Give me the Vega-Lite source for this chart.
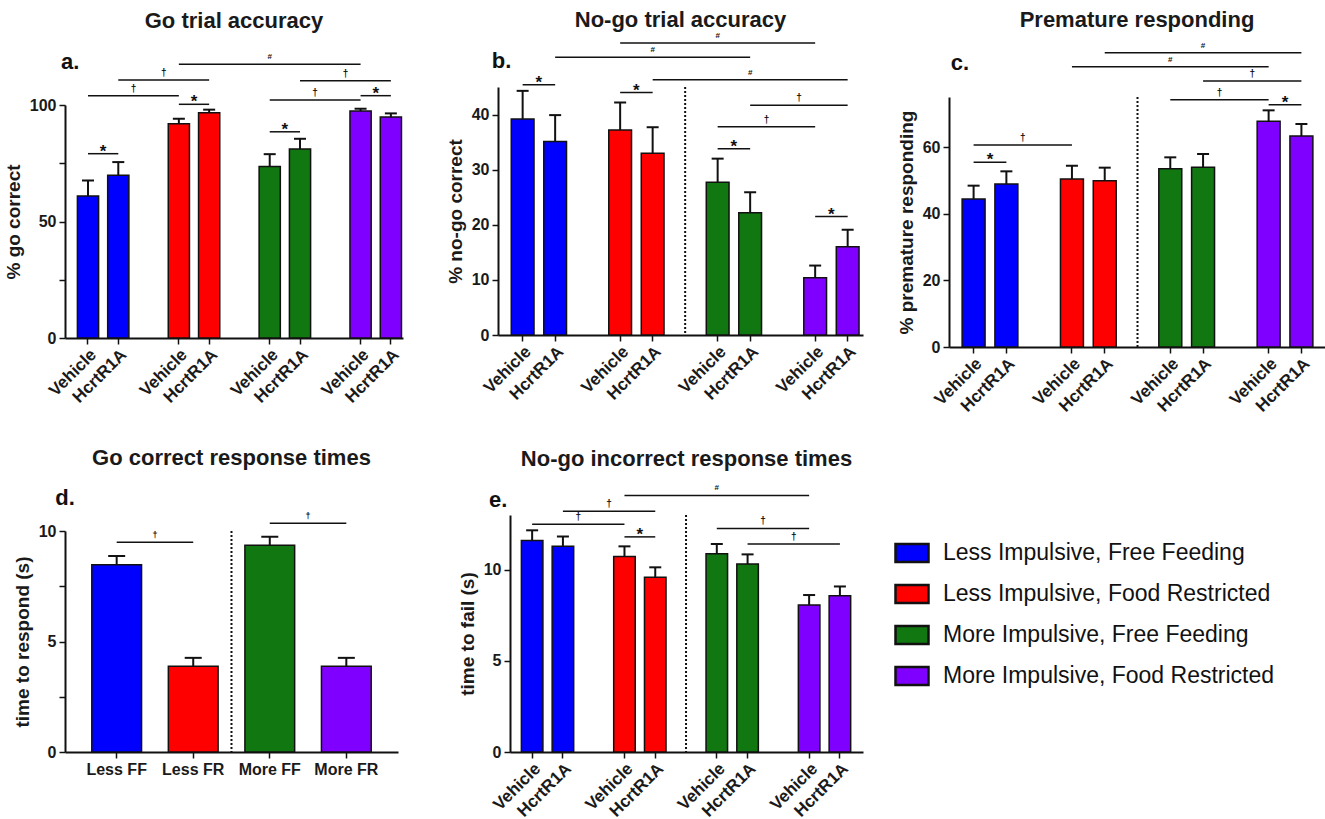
{
  "$schema": "https://vega.github.io/schema/vega-lite/v6.json",
  "background": "white",
  "padding": {"left": 4, "top": 8, "right": 0, "bottom": 0},
  "config": {
    "font": "Liberation Sans",
    "view": {"stroke": null},
    "title": {"font": "Liberation Sans", "fontSize": 22, "fontWeight": "bold", "color": "#1a1a1a", "anchor": "middle"},
    "axis": {
      "grid": false, "domainColor": "#111", "domainWidth": 2, "tickColor": "#111", "tickWidth": 1.5, "tickSize": 6,
      "labelFont": "Liberation Sans", "labelFontWeight": "bold", "labelFontSize": 16, "labelColor": "#1a1a1a", "labelPadding": 2,
      "titleFont": "Liberation Sans", "titleFontWeight": "bold", "titleFontSize": 19, "titleColor": "#1a1a1a",
      "labelOverlap": false, "labelFlush": false
    },
    "axisY": {"titlePadding": 6, "labelPadding": 3},
    "text": {"font": "Liberation Sans", "color": "#111"}
  },
  "datasets": {
    "bars": [
      {"panel": "a", "cond": "LFF-V", "group": "Less  Impulsive, Free Feeding", "mean": 60.9, "upper": 67.6},
      {"panel": "a", "cond": "LFF-H", "group": "Less  Impulsive, Free Feeding", "mean": 69.8, "upper": 75.5},
      {"panel": "a", "cond": "LFR-V", "group": "Less Impulsive, Food Restricted", "mean": 92.0, "upper": 94.1},
      {"panel": "a", "cond": "LFR-H", "group": "Less Impulsive, Food Restricted", "mean": 96.7, "upper": 98.0},
      {"panel": "a", "cond": "MFF-V", "group": "More Impulsive, Free Feeding", "mean": 73.6, "upper": 78.9},
      {"panel": "a", "cond": "MFF-H", "group": "More Impulsive, Free Feeding", "mean": 81.1, "upper": 85.5},
      {"panel": "a", "cond": "MFR-V", "group": "More Impulsive, Food Restricted", "mean": 97.4, "upper": 98.4},
      {"panel": "a", "cond": "MFR-H", "group": "More Impulsive, Food Restricted", "mean": 94.8, "upper": 96.4},
      {"panel": "b", "cond": "LFF-V", "group": "Less  Impulsive, Free Feeding", "mean": 39.2, "upper": 44.3},
      {"panel": "b", "cond": "LFF-H", "group": "Less  Impulsive, Free Feeding", "mean": 35.1, "upper": 39.9},
      {"panel": "b", "cond": "LFR-V", "group": "Less Impulsive, Food Restricted", "mean": 37.2, "upper": 42.2},
      {"panel": "b", "cond": "LFR-H", "group": "Less Impulsive, Food Restricted", "mean": 33.0, "upper": 37.7},
      {"panel": "b", "cond": "MFF-V", "group": "More Impulsive, Free Feeding", "mean": 27.7, "upper": 32.0},
      {"panel": "b", "cond": "MFF-H", "group": "More Impulsive, Free Feeding", "mean": 22.2, "upper": 25.9},
      {"panel": "b", "cond": "MFR-V", "group": "More Impulsive, Food Restricted", "mean": 10.4, "upper": 12.6},
      {"panel": "b", "cond": "MFR-H", "group": "More Impulsive, Food Restricted", "mean": 16.0, "upper": 19.1},
      {"panel": "c", "cond": "LFF-V", "group": "Less  Impulsive, Free Feeding", "mean": 44.4, "upper": 48.4},
      {"panel": "c", "cond": "LFF-H", "group": "Less  Impulsive, Free Feeding", "mean": 48.9, "upper": 52.7},
      {"panel": "c", "cond": "LFR-V", "group": "Less Impulsive, Food Restricted", "mean": 50.4, "upper": 54.4},
      {"panel": "c", "cond": "LFR-H", "group": "Less Impulsive, Food Restricted", "mean": 49.9, "upper": 53.8},
      {"panel": "c", "cond": "MFF-V", "group": "More Impulsive, Free Feeding", "mean": 53.5, "upper": 56.9},
      {"panel": "c", "cond": "MFF-H", "group": "More Impulsive, Free Feeding", "mean": 53.9, "upper": 57.9},
      {"panel": "c", "cond": "MFR-V", "group": "More Impulsive, Food Restricted", "mean": 67.7, "upper": 71.0},
      {"panel": "c", "cond": "MFR-H", "group": "More Impulsive, Food Restricted", "mean": 63.3, "upper": 66.9},
      {"panel": "d", "cond": "Less FF", "group": "Less  Impulsive, Free Feeding", "mean": 8.47, "upper": 8.87},
      {"panel": "d", "cond": "Less FR", "group": "Less Impulsive, Food Restricted", "mean": 3.88, "upper": 4.26},
      {"panel": "d", "cond": "More FF", "group": "More Impulsive, Free Feeding", "mean": 9.35, "upper": 9.74},
      {"panel": "d", "cond": "More FR", "group": "More Impulsive, Food Restricted", "mean": 3.88, "upper": 4.26},
      {"panel": "e", "cond": "LFF-V", "group": "Less  Impulsive, Free Feeding", "mean": 11.6, "upper": 12.16},
      {"panel": "e", "cond": "LFF-H", "group": "Less  Impulsive, Free Feeding", "mean": 11.28, "upper": 11.82},
      {"panel": "e", "cond": "LFR-V", "group": "Less Impulsive, Food Restricted", "mean": 10.73, "upper": 11.28},
      {"panel": "e", "cond": "LFR-H", "group": "Less Impulsive, Food Restricted", "mean": 9.58, "upper": 10.13},
      {"panel": "e", "cond": "MFF-V", "group": "More Impulsive, Free Feeding", "mean": 10.88, "upper": 11.41},
      {"panel": "e", "cond": "MFF-H", "group": "More Impulsive, Free Feeding", "mean": 10.31, "upper": 10.84},
      {"panel": "e", "cond": "MFR-V", "group": "More Impulsive, Food Restricted", "mean": 8.07, "upper": 8.61},
      {"panel": "e", "cond": "MFR-H", "group": "More Impulsive, Food Restricted", "mean": 8.57, "upper": 9.08}
    ],
    "sig": [
      {"panel": "a", "from": "LFF-V", "to": "LFF-H", "yv": 79.1, "sym": "*"},
      {"panel": "a", "from": "LFF-V", "to": "LFR-V", "yv": 104.0, "sym": "†"},
      {"panel": "a", "from": "LFF-H", "to": "LFR-H", "yv": 110.7, "sym": "†"},
      {"panel": "a", "from": "LFR-V", "to": "MFR-V", "yv": 117.5, "sym": "#"},
      {"panel": "a", "from": "LFR-V", "to": "LFR-H", "yv": 100.3, "sym": "*"},
      {"panel": "a", "from": "MFF-V", "to": "MFF-H", "yv": 88.5, "sym": "*"},
      {"panel": "a", "from": "MFF-V", "to": "MFR-V", "yv": 102.1, "sym": "†"},
      {"panel": "a", "from": "MFF-H", "to": "MFR-H", "yv": 110.4, "sym": "†"},
      {"panel": "a", "from": "MFR-V", "to": "MFR-H", "yv": 104.0, "sym": "*"},
      {"panel": "b", "from": "LFF-V", "to": "LFF-H", "yv": 45.4, "sym": "*"},
      {"panel": "b", "from": "LFR-V", "to": "LFR-H", "yv": 44.0, "sym": "*"},
      {"panel": "b", "from": "LFF-H", "to": "MFF-H", "yv": 50.4, "sym": "#"},
      {"panel": "b", "from": "LFR-V", "to": "MFR-V", "yv": 53.0, "sym": "#"},
      {"panel": "b", "from": "LFR-H", "to": "MFR-H", "yv": 46.3, "sym": "#"},
      {"panel": "b", "from": "MFF-H", "to": "MFR-H", "yv": 41.7, "sym": "†"},
      {"panel": "b", "from": "MFF-V", "to": "MFR-V", "yv": 37.8, "sym": "†"},
      {"panel": "b", "from": "MFF-V", "to": "MFF-H", "yv": 33.8, "sym": "*"},
      {"panel": "b", "from": "MFR-V", "to": "MFR-H", "yv": 21.5, "sym": "*"},
      {"panel": "c", "from": "LFF-V", "to": "LFF-H", "yv": 55.4, "sym": "*"},
      {"panel": "c", "from": "LFF-V", "to": "LFR-V", "yv": 60.6, "sym": "†"},
      {"panel": "c", "from": "MFF-V", "to": "MFR-V", "yv": 74.2, "sym": "†"},
      {"panel": "c", "from": "MFR-V", "to": "MFR-H", "yv": 72.7, "sym": "*"},
      {"panel": "c", "from": "MFF-H", "to": "MFR-H", "yv": 79.8, "sym": "†"},
      {"panel": "c", "from": "LFR-V", "to": "MFR-V", "yv": 84.1, "sym": "#"},
      {"panel": "c", "from": "LFR-H", "to": "MFR-H", "yv": 88.3, "sym": "#"},
      {"panel": "d", "from": "Less FF", "to": "Less FR", "yv": 9.49, "sym": "†"},
      {"panel": "d", "from": "More FF", "to": "More FR", "yv": 10.35, "sym": "†"},
      {"panel": "e", "from": "LFR-V", "to": "LFR-H", "yv": 11.8, "sym": "*"},
      {"panel": "e", "from": "LFF-V", "to": "LFR-V", "yv": 12.49, "sym": "†"},
      {"panel": "e", "from": "LFF-H", "to": "LFR-H", "yv": 13.21, "sym": "†"},
      {"panel": "e", "from": "LFR-V", "to": "MFR-V", "yv": 14.07, "sym": "#"},
      {"panel": "e", "from": "MFF-V", "to": "MFR-V", "yv": 12.26, "sym": "†"},
      {"panel": "e", "from": "MFF-H", "to": "MFR-H", "yv": 11.41, "sym": "†"}
    ],
    "sep": [
      {"panel": "b", "at": "g2", "top": 45},
      {"panel": "c", "at": "g2", "top": 75},
      {"panel": "d", "at": "Less FR", "top": 10},
      {"panel": "e", "at": "g2", "top": 13}
    ],
    "letters": [
      {"panel": "a", "at": "LFF-V", "yv": 118.6, "label": "a."},
      {"panel": "b", "at": "LFF-V", "yv": 49.8, "label": "b."},
      {"panel": "c", "at": "LFF-V", "yv": 85.1, "label": "c."},
      {"panel": "d", "at": "Less FF", "yv": 11.48, "label": "d."},
      {"panel": "e", "at": "LFF-V", "yv": 13.85, "label": "e."}
    ]
  },
  "spacing": 32,
  "vconcat": [
    {
      "spacing": 34,
      "hconcat": [
        {
          "spacing": 43,
          "hconcat": [
            {
              "title": {"text": "Go trial accuracy", "offset": 18},
              "width": 338, "height": 251,
              "layer": [
                {"data": {"name": "bars"}, "transform": [{"filter": "datum.panel == 'a'"}],
                 "mark": {"type": "bar", "stroke": "#111", "strokeWidth": 1.5},
                 "encoding": {
                   "x": {"field": "cond", "type": "nominal", "title": null,
                         "scale": {"domain": ["LFF-V","LFF-H","g1","LFR-V","LFR-H","g2","MFF-V","MFF-H","g3","MFR-V","MFR-H"], "paddingInner": 0.3, "paddingOuter": 0.23, "align": 0.89},
                         "axis": {"values": ["LFF-V","LFF-H","LFR-V","LFR-H","MFF-V","MFF-H","MFR-V","MFR-H"], "labelExpr": "substring(datum.value, 4) == 'V' ? 'Vehicle' : 'HcrtR1A'", "labelAngle": -45, "labelFontSize": 17}},
                   "y": {"field": "mean", "type": "quantitative", "title": "% go correct",
                         "scale": {"domain": [0, 100], "nice": false, "range": [251, 18]},
                         "axis": {"values": [0, 25, 50, 75, 100], "labelExpr": "datum.value % 50 == 0 ? datum.label : ''"}},
                   "color": {"field": "group", "type": "nominal",
                             "scale": {"domain": ["Less  Impulsive, Free Feeding", "Less Impulsive, Food Restricted", "More Impulsive, Free Feeding", "More Impulsive, Food Restricted"], "range": ["#0000FF", "#FF0000", "#117711", "#8000FF"]},
                             "legend": {"title": null, "orient": "none", "legendX": 829, "legendY": 448, "symbolType": "M-1,-0.545H1V0.545H-1Z", "symbolSize": 1089, "symbolStrokeColor": "#111", "symbolStrokeWidth": 2.5, "symbolOpacity": 1, "labelFont": "Liberation Sans", "labelFontSize": 23, "labelColor": "#111", "labelOffset": 13, "rowPadding": 9, "labelLimit": 400}}
                 }},
                {"data": {"name": "bars"}, "transform": [{"filter": "datum.panel == 'a'"}],
                 "mark": {"type": "rule", "strokeWidth": 2, "color": "#111"},
                 "encoding": {"x": {"field": "cond", "type": "nominal"}, "y": {"field": "mean", "type": "quantitative"}, "y2": {"field": "upper"}}},
                {"data": {"name": "bars"}, "transform": [{"filter": "datum.panel == 'a'"}],
                 "mark": {"type": "tick", "size": 12, "thickness": 2, "color": "#111", "opacity": 1},
                 "encoding": {"x": {"field": "cond", "type": "nominal"}, "y": {"field": "upper", "type": "quantitative"}}},
                {"data": {"name": "sig"}, "transform": [{"filter": "datum.panel == 'a'"}],
                 "mark": {"type": "rule", "strokeWidth": 1.5, "color": "#111"},
                 "encoding": {"x": {"field": "from", "type": "nominal"}, "x2": {"field": "to"}, "y": {"field": "yv", "type": "quantitative"}}},
                {"data": {"name": "sig"}, "transform": [{"filter": "datum.panel == 'a' && datum.sym == '*'"}],
                 "mark": {"type": "text", "fontSize": 17, "fontWeight": "bold", "baseline": "alphabetic", "dy": 3},
                 "encoding": {"x": {"field": "from", "type": "nominal", "bandPosition": 1.2143}, "y": {"field": "yv", "type": "quantitative"}, "text": {"field": "sym", "type": "nominal"}}},
                {"data": {"name": "sig"}, "transform": [{"filter": "datum.panel == 'a' && datum.sym == '†'"}],
                 "mark": {"type": "text", "fontSize": 10, "fontWeight": "bold", "baseline": "alphabetic", "dy": -4},
                 "encoding": {"x": {"field": "from", "type": "nominal", "bandPosition": 2.6429}, "y": {"field": "yv", "type": "quantitative"}, "text": {"field": "sym", "type": "nominal"}}},
                {"data": {"name": "sig"}, "transform": [{"filter": "datum.panel == 'a' && datum.sym == '#'"}],
                 "mark": {"type": "text", "fontSize": 8, "fontWeight": "bold", "baseline": "alphabetic", "dy": -5},
                 "encoding": {"x": {"field": "from", "type": "nominal", "bandPosition": 4.7857}, "y": {"field": "yv", "type": "quantitative"}, "text": {"field": "sym", "type": "nominal"}}},
                {"data": {"name": "letters"}, "transform": [{"filter": "datum.panel == 'a'"}],
                 "mark": {"type": "text", "fontSize": 22, "fontWeight": "bold", "align": "right", "baseline": "middle", "dx": 2},
                 "encoding": {"x": {"field": "at", "type": "nominal", "bandPosition": 0}, "y": {"field": "yv", "type": "quantitative"}, "text": {"field": "label", "type": "nominal"}}}
              ]
            },
            {
              "title": {"text": "No-go trial accuracy", "offset": 0},
              "width": 365, "height": 248,
              "layer": [
                {"data": {"name": "bars"}, "transform": [{"filter": "datum.panel == 'b'"}],
                 "mark": {"type": "bar", "stroke": "#111", "strokeWidth": 1.5},
                 "encoding": {
                   "x": {"field": "cond", "type": "nominal", "title": null,
                         "scale": {"domain": ["LFF-V","LFF-H","g1","LFR-V","LFR-H","g2","MFF-V","MFF-H","g3","MFR-V","MFR-H"], "paddingInner": 0.3, "paddingOuter": 0.265, "align": 0.77},
                         "axis": {"values": ["LFF-V","LFF-H","LFR-V","LFR-H","MFF-V","MFF-H","MFR-V","MFR-H"], "labelExpr": "substring(datum.value, 4) == 'V' ? 'Vehicle' : 'HcrtR1A'", "labelAngle": -45, "labelFontSize": 17}},
                   "y": {"field": "mean", "type": "quantitative", "title": "% no-go correct",
                         "scale": {"domain": [0, 45], "nice": false, "range": [248, 0]},
                         "axis": {"values": [0, 10, 20, 30, 40]}},
                   "color": {"field": "group", "type": "nominal"}
                 }},
                {"data": {"name": "bars"}, "transform": [{"filter": "datum.panel == 'b'"}],
                 "mark": {"type": "rule", "strokeWidth": 2, "color": "#111"},
                 "encoding": {"x": {"field": "cond", "type": "nominal"}, "y": {"field": "mean", "type": "quantitative"}, "y2": {"field": "upper"}}},
                {"data": {"name": "bars"}, "transform": [{"filter": "datum.panel == 'b'"}],
                 "mark": {"type": "tick", "size": 12, "thickness": 2, "color": "#111", "opacity": 1},
                 "encoding": {"x": {"field": "cond", "type": "nominal"}, "y": {"field": "upper", "type": "quantitative"}}},
                {"data": {"name": "sep"}, "transform": [{"filter": "datum.panel == 'b'"}],
                 "mark": {"type": "rule", "strokeWidth": 2, "strokeDash": [2, 2], "color": "#111"},
                 "encoding": {"x": {"field": "at", "type": "nominal"}, "y": {"field": "top", "type": "quantitative"}, "y2": {"datum": 0}}},
                {"data": {"name": "sig"}, "transform": [{"filter": "datum.panel == 'b'"}],
                 "mark": {"type": "rule", "strokeWidth": 1.5, "color": "#111"},
                 "encoding": {"x": {"field": "from", "type": "nominal"}, "x2": {"field": "to"}, "y": {"field": "yv", "type": "quantitative"}}},
                {"data": {"name": "sig"}, "transform": [{"filter": "datum.panel == 'b' && datum.sym == '*'"}],
                 "mark": {"type": "text", "fontSize": 17, "fontWeight": "bold", "baseline": "alphabetic", "dy": 3},
                 "encoding": {"x": {"field": "from", "type": "nominal", "bandPosition": 1.2143}, "y": {"field": "yv", "type": "quantitative"}, "text": {"field": "sym", "type": "nominal"}}},
                {"data": {"name": "sig"}, "transform": [{"filter": "datum.panel == 'b' && datum.sym == '†'"}],
                 "mark": {"type": "text", "fontSize": 10, "fontWeight": "bold", "baseline": "alphabetic", "dy": -4},
                 "encoding": {"x": {"field": "from", "type": "nominal", "bandPosition": 2.6429}, "y": {"field": "yv", "type": "quantitative"}, "text": {"field": "sym", "type": "nominal"}}},
                {"data": {"name": "sig"}, "transform": [{"filter": "datum.panel == 'b' && datum.sym == '#'"}],
                 "mark": {"type": "text", "fontSize": 8, "fontWeight": "bold", "baseline": "alphabetic", "dy": -5},
                 "encoding": {"x": {"field": "from", "type": "nominal", "bandPosition": 4.7857}, "y": {"field": "yv", "type": "quantitative"}, "text": {"field": "sym", "type": "nominal"}}},
                {"data": {"name": "letters"}, "transform": [{"filter": "datum.panel == 'b'"}],
                 "mark": {"type": "text", "fontSize": 22, "fontWeight": "bold", "align": "right", "baseline": "middle", "dx": 0},
                 "encoding": {"x": {"field": "at", "type": "nominal", "bandPosition": 0}, "y": {"field": "yv", "type": "quantitative"}, "text": {"field": "label", "type": "nominal"}}}
              ]
            }
          ]
        },
        {
          "title": {"text": "Premature responding", "offset": 10},
          "width": 376, "height": 260,
          "layer": [
            {"data": {"name": "bars"}, "transform": [{"filter": "datum.panel == 'c'"}],
             "mark": {"type": "bar", "stroke": "#111", "strokeWidth": 1.5},
             "encoding": {
               "x": {"field": "cond", "type": "nominal", "title": null,
                     "scale": {"domain": ["LFF-V","LFF-H","g1","LFR-V","LFR-H","g2","MFF-V","MFF-H","g3","MFR-V","MFR-H"], "paddingInner": 0.3, "paddingOuter": 0.385, "align": 0.52},
                     "axis": {"values": ["LFF-V","LFF-H","LFR-V","LFR-H","MFF-V","MFF-H","MFR-V","MFR-H"], "labelExpr": "substring(datum.value, 4) == 'V' ? 'Vehicle' : 'HcrtR1A'", "labelAngle": -45, "labelFontSize": 17}},
               "y": {"field": "mean", "type": "quantitative", "title": "% premature responding",
                     "scale": {"domain": [0, 75], "nice": false, "range": [260, 10]},
                     "axis": {"values": [0, 10, 20, 30, 40, 50, 60, 70], "labelExpr": "datum.value % 20 == 0 ? datum.label : ''"}},
               "color": {"field": "group", "type": "nominal"}
             }},
            {"data": {"name": "bars"}, "transform": [{"filter": "datum.panel == 'c'"}],
             "mark": {"type": "rule", "strokeWidth": 2, "color": "#111"},
             "encoding": {"x": {"field": "cond", "type": "nominal"}, "y": {"field": "mean", "type": "quantitative"}, "y2": {"field": "upper"}}},
            {"data": {"name": "bars"}, "transform": [{"filter": "datum.panel == 'c'"}],
             "mark": {"type": "tick", "size": 12, "thickness": 2, "color": "#111", "opacity": 1},
             "encoding": {"x": {"field": "cond", "type": "nominal"}, "y": {"field": "upper", "type": "quantitative"}}},
            {"data": {"name": "sep"}, "transform": [{"filter": "datum.panel == 'c'"}],
             "mark": {"type": "rule", "strokeWidth": 2, "strokeDash": [2, 2], "color": "#111"},
             "encoding": {"x": {"field": "at", "type": "nominal"}, "y": {"field": "top", "type": "quantitative"}, "y2": {"datum": 0}}},
            {"data": {"name": "sig"}, "transform": [{"filter": "datum.panel == 'c'"}],
             "mark": {"type": "rule", "strokeWidth": 1.5, "color": "#111"},
             "encoding": {"x": {"field": "from", "type": "nominal"}, "x2": {"field": "to"}, "y": {"field": "yv", "type": "quantitative"}}},
            {"data": {"name": "sig"}, "transform": [{"filter": "datum.panel == 'c' && datum.sym == '*'"}],
             "mark": {"type": "text", "fontSize": 17, "fontWeight": "bold", "baseline": "alphabetic", "dy": 3},
             "encoding": {"x": {"field": "from", "type": "nominal", "bandPosition": 1.2143}, "y": {"field": "yv", "type": "quantitative"}, "text": {"field": "sym", "type": "nominal"}}},
            {"data": {"name": "sig"}, "transform": [{"filter": "datum.panel == 'c' && datum.sym == '†'"}],
             "mark": {"type": "text", "fontSize": 10, "fontWeight": "bold", "baseline": "alphabetic", "dy": -4},
             "encoding": {"x": {"field": "from", "type": "nominal", "bandPosition": 2.6429}, "y": {"field": "yv", "type": "quantitative"}, "text": {"field": "sym", "type": "nominal"}}},
            {"data": {"name": "sig"}, "transform": [{"filter": "datum.panel == 'c' && datum.sym == '#'"}],
             "mark": {"type": "text", "fontSize": 8, "fontWeight": "bold", "baseline": "alphabetic", "dy": -5},
             "encoding": {"x": {"field": "from", "type": "nominal", "bandPosition": 4.7857}, "y": {"field": "yv", "type": "quantitative"}, "text": {"field": "sym", "type": "nominal"}}},
            {"data": {"name": "letters"}, "transform": [{"filter": "datum.panel == 'c'"}],
             "mark": {"type": "text", "fontSize": 22, "fontWeight": "bold", "align": "right", "baseline": "middle", "dx": 7},
             "encoding": {"x": {"field": "at", "type": "nominal", "bandPosition": 0}, "y": {"field": "yv", "type": "quantitative"}, "text": {"field": "label", "type": "nominal"}}}
          ]
        }
      ]
    },
    {
      "spacing": 60,
      "hconcat": [
        {
          "title": {"text": "Go correct response times", "offset": 17},
          "width": 333, "height": 237,
          "layer": [
            {"data": {"name": "bars"}, "transform": [{"filter": "datum.panel == 'd'"}],
             "mark": {"type": "bar", "stroke": "#111", "strokeWidth": 1.5},
             "encoding": {
               "x": {"field": "cond", "type": "nominal", "title": null,
                     "scale": {"domain": ["Less FF", "Less FR", "More FF", "More FR"], "paddingInner": 0.35, "paddingOuter": 0.35, "align": 0.5},
                     "axis": {"labelAngle": 0, "labelPadding": 3}},
               "y": {"field": "mean", "type": "quantitative", "title": "time to respond (s)",
                     "scale": {"domain": [0, 10], "nice": false, "range": [237, 16]},
                     "axis": {"values": [0, 2.5, 5, 7.5, 10], "labelExpr": "datum.value % 5 == 0 ? datum.label : ''"}},
               "color": {"field": "group", "type": "nominal"}
             }},
            {"data": {"name": "bars"}, "transform": [{"filter": "datum.panel == 'd'"}],
             "mark": {"type": "rule", "strokeWidth": 2, "color": "#111"},
             "encoding": {"x": {"field": "cond", "type": "nominal"}, "y": {"field": "mean", "type": "quantitative"}, "y2": {"field": "upper"}}},
            {"data": {"name": "bars"}, "transform": [{"filter": "datum.panel == 'd'"}],
             "mark": {"type": "tick", "size": 17, "thickness": 2, "color": "#111", "opacity": 1},
             "encoding": {"x": {"field": "cond", "type": "nominal"}, "y": {"field": "upper", "type": "quantitative"}}},
            {"data": {"name": "sep"}, "transform": [{"filter": "datum.panel == 'd'"}],
             "mark": {"type": "rule", "strokeWidth": 2, "strokeDash": [2, 2], "color": "#111"},
             "encoding": {"x": {"field": "at", "type": "nominal", "bandPosition": 1.269}, "y": {"field": "top", "type": "quantitative"}, "y2": {"datum": 0}}},
            {"data": {"name": "sig"}, "transform": [{"filter": "datum.panel == 'd'"}],
             "mark": {"type": "rule", "strokeWidth": 1.5, "color": "#111"},
             "encoding": {"x": {"field": "from", "type": "nominal"}, "x2": {"field": "to"}, "y": {"field": "yv", "type": "quantitative"}}},
            {"data": {"name": "sig"}, "transform": [{"filter": "datum.panel == 'd'"}],
             "mark": {"type": "text", "fontSize": 9, "fontWeight": "bold", "baseline": "alphabetic", "dy": -4},
             "encoding": {"x": {"field": "from", "type": "nominal", "bandPosition": 1.269}, "y": {"field": "yv", "type": "quantitative"}, "text": {"field": "sym", "type": "nominal"}}},
            {"data": {"name": "letters"}, "transform": [{"filter": "datum.panel == 'd'"}],
             "mark": {"type": "text", "fontSize": 22, "fontWeight": "bold", "align": "right", "baseline": "middle", "dx": -17},
             "encoding": {"x": {"field": "at", "type": "nominal", "bandPosition": 0}, "y": {"field": "yv", "type": "quantitative"}, "text": {"field": "label", "type": "nominal"}}}
          ]
        },
        {
          "title": {"text": "No-go incorrect response times", "offset": 13},
          "width": 353, "height": 237,
          "layer": [
            {"data": {"name": "bars"}, "transform": [{"filter": "datum.panel == 'e'"}],
             "mark": {"type": "bar", "stroke": "#111", "strokeWidth": 1.5},
             "encoding": {
               "x": {"field": "cond", "type": "nominal", "title": null,
                     "scale": {"domain": ["LFF-V","LFF-H","g1","LFR-V","LFR-H","g2","MFF-V","MFF-H","g3","MFR-V","MFR-H"], "paddingInner": 0.3, "paddingOuter": 0.385, "align": 0.48},
                     "axis": {"values": ["LFF-V","LFF-H","LFR-V","LFR-H","MFF-V","MFF-H","MFR-V","MFR-H"], "labelExpr": "substring(datum.value, 4) == 'V' ? 'Vehicle' : 'HcrtR1A'", "labelAngle": -45, "labelFontSize": 17}},
               "y": {"field": "mean", "type": "quantitative", "title": "time to fail (s)",
                     "scale": {"domain": [0, 13], "nice": false, "range": [237, 0]},
                     "axis": {"values": [0, 5, 10]}},
               "color": {"field": "group", "type": "nominal"}
             }},
            {"data": {"name": "bars"}, "transform": [{"filter": "datum.panel == 'e'"}],
             "mark": {"type": "rule", "strokeWidth": 2, "color": "#111"},
             "encoding": {"x": {"field": "cond", "type": "nominal"}, "y": {"field": "mean", "type": "quantitative"}, "y2": {"field": "upper"}}},
            {"data": {"name": "bars"}, "transform": [{"filter": "datum.panel == 'e'"}],
             "mark": {"type": "tick", "size": 12, "thickness": 2, "color": "#111", "opacity": 1},
             "encoding": {"x": {"field": "cond", "type": "nominal"}, "y": {"field": "upper", "type": "quantitative"}}},
            {"data": {"name": "sep"}, "transform": [{"filter": "datum.panel == 'e'"}],
             "mark": {"type": "rule", "strokeWidth": 2, "strokeDash": [2, 2], "color": "#111"},
             "encoding": {"x": {"field": "at", "type": "nominal"}, "y": {"field": "top", "type": "quantitative"}, "y2": {"datum": 0}}},
            {"data": {"name": "sig"}, "transform": [{"filter": "datum.panel == 'e'"}],
             "mark": {"type": "rule", "strokeWidth": 1.5, "color": "#111"},
             "encoding": {"x": {"field": "from", "type": "nominal"}, "x2": {"field": "to"}, "y": {"field": "yv", "type": "quantitative"}}},
            {"data": {"name": "sig"}, "transform": [{"filter": "datum.panel == 'e' && datum.sym == '*'"}],
             "mark": {"type": "text", "fontSize": 17, "fontWeight": "bold", "baseline": "alphabetic", "dy": 3},
             "encoding": {"x": {"field": "from", "type": "nominal", "bandPosition": 1.2143}, "y": {"field": "yv", "type": "quantitative"}, "text": {"field": "sym", "type": "nominal"}}},
            {"data": {"name": "sig"}, "transform": [{"filter": "datum.panel == 'e' && datum.sym == '†'"}],
             "mark": {"type": "text", "fontSize": 10, "fontWeight": "bold", "baseline": "alphabetic", "dy": -4},
             "encoding": {"x": {"field": "from", "type": "nominal", "bandPosition": 2.6429}, "y": {"field": "yv", "type": "quantitative"}, "text": {"field": "sym", "type": "nominal"}}},
            {"data": {"name": "sig"}, "transform": [{"filter": "datum.panel == 'e' && datum.sym == '#'"}],
             "mark": {"type": "text", "fontSize": 8, "fontWeight": "bold", "baseline": "alphabetic", "dy": -5},
             "encoding": {"x": {"field": "from", "type": "nominal", "bandPosition": 4.7857}, "y": {"field": "yv", "type": "quantitative"}, "text": {"field": "sym", "type": "nominal"}}},
            {"data": {"name": "letters"}, "transform": [{"filter": "datum.panel == 'e'"}],
             "mark": {"type": "text", "fontSize": 22, "fontWeight": "bold", "align": "right", "baseline": "middle", "dx": -14},
             "encoding": {"x": {"field": "at", "type": "nominal", "bandPosition": 0}, "y": {"field": "yv", "type": "quantitative"}, "text": {"field": "label", "type": "nominal"}}}
          ]
        }
      ]
    }
  ]
}
